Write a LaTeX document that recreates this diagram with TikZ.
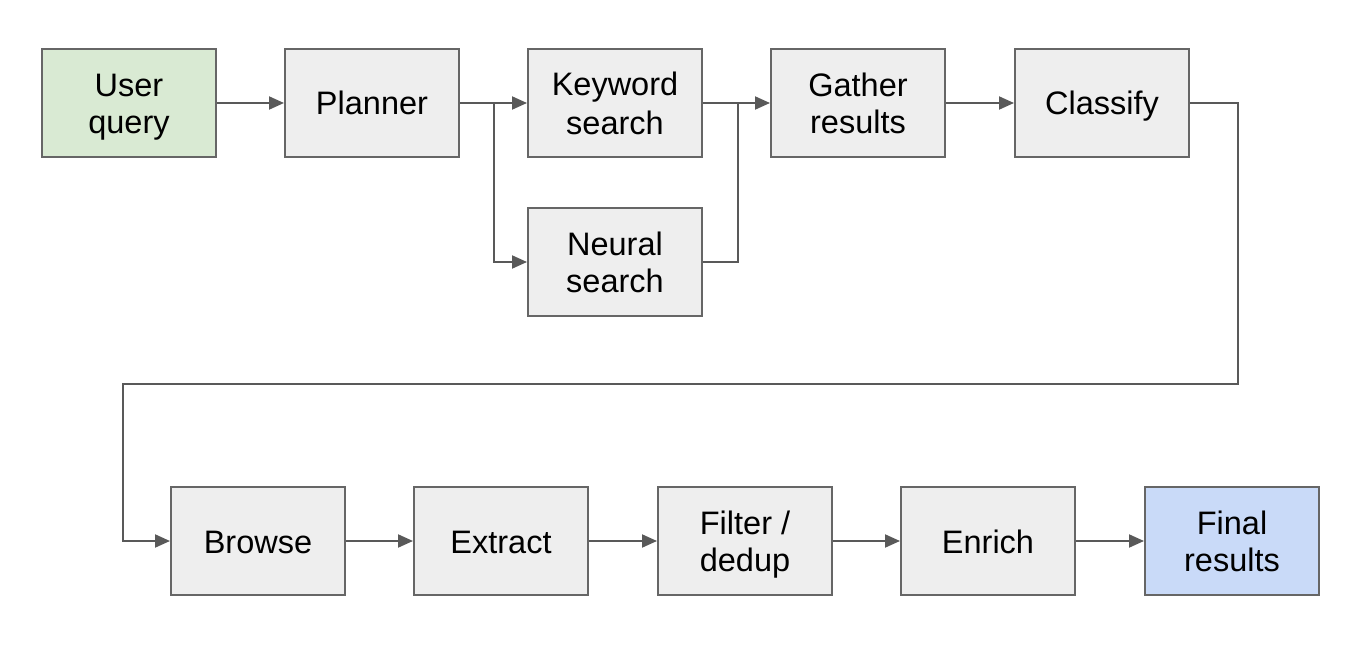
\documentclass[tikz,border=0pt]{standalone}
\usepackage{fontspec}
\setmainfont{Liberation Sans}
\usetikzlibrary{arrows.meta}
\definecolor{boxgray}{HTML}{EEEEEE}
\definecolor{boxgreen}{HTML}{D9EAD3}
\definecolor{boxblue}{HTML}{C9DAF8}
\definecolor{edgegray}{HTML}{666666}
\definecolor{arrowgray}{HTML}{595959}
\newcommand\lnstrut{\rule[-6.5pt]{0pt}{37pt}}
\begin{document}
\begin{tikzpicture}[x=1pt,y=1pt,
  box/.style={draw=edgegray, line width=2pt, fill=boxgray, minimum width=174pt, minimum height=108pt,
    inner sep=0pt, align=center, font=\fontsize{32.5}{37}\selectfont},
  conn/.style={draw=arrowgray, line width=2pt, -{Triangle[length=15pt,width=13pt]}},
  plain/.style={draw=arrowgray, line width=2pt}]
\useasboundingbox (0,0) rectangle (1370,-660);
\node[box, fill=boxgreen] (user) at (129,-103) {\lnstrut User\\query\lnstrut};
\node[box] (plan) at (372,-103) {\lnstrut Planner\lnstrut};
\node[box] (kw) at (615,-103) {\lnstrut Keyword\\search\lnstrut};
\node[box] (neur) at (615,-262) {\lnstrut Neural\\search\lnstrut};
\node[box] (gath) at (858,-103) {\lnstrut Gather\\results\lnstrut};
\node[box] (cls) at (1102,-103) {\lnstrut Classify\lnstrut};
\node[box] (brow) at (258,-541) {\lnstrut Browse\lnstrut};
\node[box] (extr) at (501,-541) {\lnstrut Extract\lnstrut};
\node[box] (filt) at (745,-541) {\lnstrut Filter /\\dedup\lnstrut};
\node[box] (enr) at (988,-541) {\lnstrut Enrich\lnstrut};
\node[box, fill=boxblue] (fin) at (1232,-541) {\lnstrut Final\\results\lnstrut};
\coordinate (j1) at (494,-103);
\coordinate (j2) at (738,-103);
\coordinate (c1) at (1238,-103);
\coordinate (c2) at (1238,-384);
\coordinate (c3) at (123,-384);
\draw[conn] (user) -- (plan);
\draw[conn] (plan.east) -- (kw.west);
\draw[conn] (j1) |- (neur.west);
\draw[conn] (kw.east) -- (gath.west);
\draw[plain] (neur.east) -| (j2);
\draw[conn] (gath) -- (cls);
\draw[conn] (cls.east) -- (c1) -- (c2) -- (c3) |- (brow.west);
\draw[conn] (brow) -- (extr);
\draw[conn] (extr) -- (filt);
\draw[conn] (filt) -- (enr);
\draw[conn] (enr) -- (fin);
\end{tikzpicture}
\end{document}
